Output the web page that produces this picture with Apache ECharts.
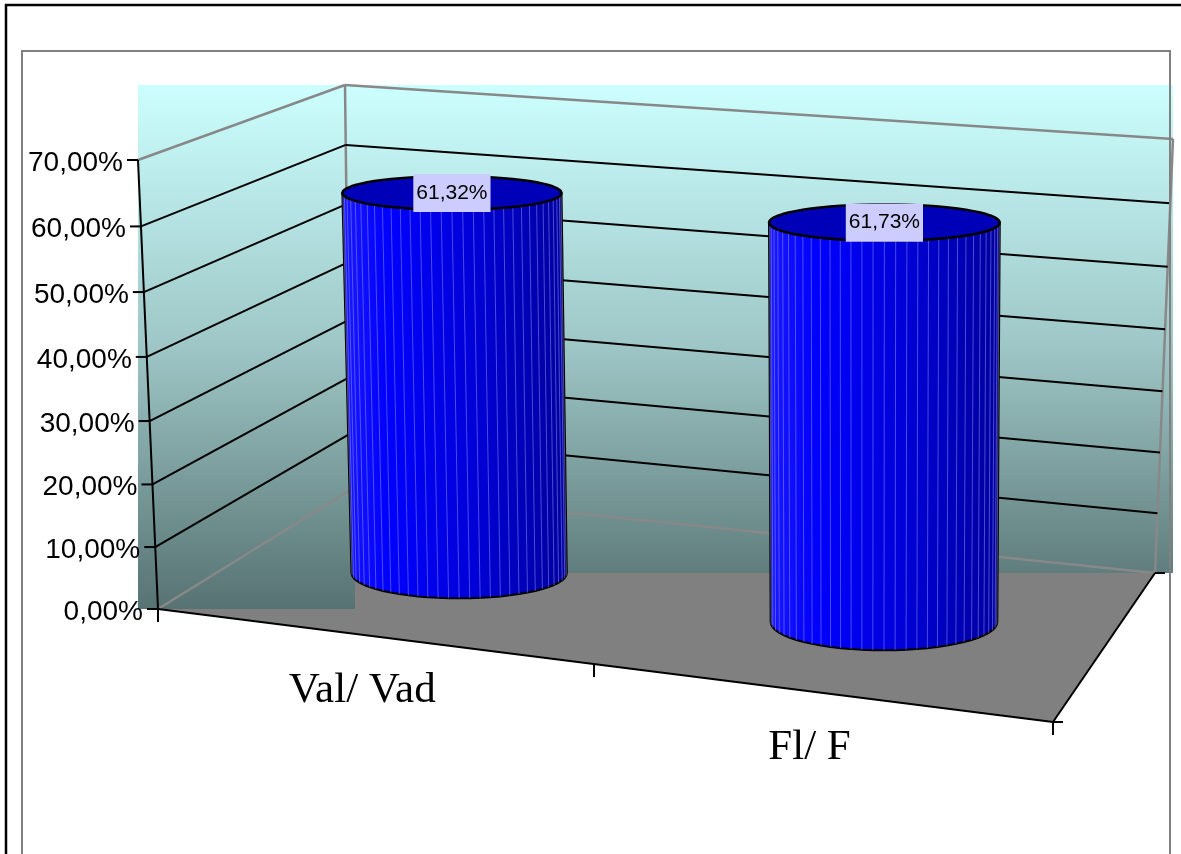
<!DOCTYPE html>
<html>
<head>
<meta charset="utf-8">
<script src="https://cdn.jsdelivr.net/npm/echarts/dist/echarts.min.js"></script>
<style>
  html, body { margin: 0; padding: 0; background: #fff; }
  #chart { width: 1181px; height: 854px; }
</style>
</head>
<body>
<div id="chart"></div>
<script>
// ---- data ----
const categories = ['Val/ Vad', 'Fl/ F'];
const ratios = [0.6132, 0.6173];
const tickValues = [0, 0.1, 0.2, 0.3, 0.4, 0.5, 0.6, 0.7];
const tickLabels = ['0,00%', '10,00%', '20,00%', '30,00%', '40,00%', '50,00%', '60,00%', '70,00%'];
const axisMax = 0.7;

// ---- 3D box layout: screen corners (F/B = front/back, L/R = left/right, B/T = bottom/top) ----
const BOX = {
  FLB: [158, 609], FLT: [138, 160],
  FRB: [1053, 722], FRT: [1045, 226],
  BLB: [350, 490], BLT: [345, 85],
  BRB: [1155, 573], BRT: [1173, 139]
};
const PERSP_U = 0.95;   // foreshortening along the category direction
const PERSP_T = 0.96;   // foreshortening along the value direction

function lerp(a, b, t) { return [a[0] + (b[0] - a[0]) * t, a[1] + (b[1] - a[1]) * t]; }
function persp(x, b) { return b * x / (1 + (b - 1) * x); }
// u: 0..1 across categories, w: 0 (front) .. 1 (back), t: 0..1 of the value range
function project(u, w, t) {
  const su = persp(u, PERSP_U), st = persp(t, PERSP_T);
  const bottom = lerp(lerp(BOX.FLB, BOX.FRB, su), lerp(BOX.BLB, BOX.BRB, su), w);
  const top = lerp(lerp(BOX.FLT, BOX.FRT, su), lerp(BOX.BLT, BOX.BRT, su), w);
  return lerp(bottom, top, st);
}
// Axis coordinates -> box fractions, through the (hidden) cartesian scales
function toBox(api, catIdx, value) {
  const p = api.coord([catIdx, value]);
  const origin = api.coord([0, 0]);
  const band = api.size([1, 0])[0];
  const left = origin[0] - band / 2;
  const yTop = api.coord([0, axisMax])[1];
  return {
    u: (p[0] - left) / (band * categories.length),
    t: (origin[1] - p[1]) / (origin[1] - yTop)
  };
}
function fmtPct(v) { return (v * 100).toFixed(2).replace('.', ',') + '%'; }

const EDGE_GRAY = '#888888';
const WALL_GRADIENT = [
  { offset: 0, color: '#CCFFFF' },
  { offset: 0.5, color: '#9EC6C6' },
  { offset: 1, color: '#577272' }
];

function line(a, b, color, width) {
  return { type: 'line', shape: { x1: a[0], y1: a[1], x2: b[0], y2: b[1] },
           style: { stroke: color, lineWidth: width } };
}
function bbox(pts) {
  const xs = pts.map(p => p[0]), ys = pts.map(p => p[1]);
  return { x: Math.min(...xs), y: Math.min(...ys),
           w: Math.max(...xs) - Math.min(...xs), h: Math.max(...ys) - Math.min(...ys) };
}

// floor + wall panels
function renderFrame(params, api) {
  const flb = project(0, 0, 0), frb = project(1, 0, 0), brb = project(1, 1, 0), blb = project(0, 1, 0);
  const flt = project(0, 0, 1), blt = project(0, 1, 1), brt = project(1, 1, 1);
  const leftWall = bbox([flb, blb, blt, flt]);
  const backWall = bbox([blb, brb, brt, blt]);
  const gTop = Math.min(leftWall.y, backWall.y);
  const gBottom = Math.max(leftWall.y + leftWall.h, backWall.y + backWall.h);
  const grad = { type: 'linear', x: 0, y: gTop, x2: 0, y2: gBottom, global: true, colorStops: WALL_GRADIENT };
  return {
    type: 'group',
    children: [
      { type: 'polygon', shape: { points: [flb, frb, brb, blb] }, style: { fill: '#808080' } },
      { type: 'rect', shape: { x: leftWall.x, y: leftWall.y, width: leftWall.w + 5, height: leftWall.h }, style: { fill: grad } },
      { type: 'rect', shape: { x: backWall.x, y: backWall.y, width: backWall.w, height: backWall.h }, style: { fill: grad } },
      line(blb, blt, EDGE_GRAY, 2.5),
      line(brb, brt, EDGE_GRAY, 2.5)
    ]
  };
}

// one gridline / tick / tick label per axis value
function renderTick(params, api) {
  const v = api.value(1);
  const { t } = toBox(api, 0, v);
  const edge = params.dataIndex === 0 || params.dataIndex === tickValues.length - 1;
  const color = edge ? EDGE_GRAY : '#000';
  const front = project(0, 0, t), backL = project(0, 1, t), backR = project(1, 1, t);
  return {
    type: 'group',
    children: [
      line(front, backL, color, edge ? 2.5 : 2),
      line(backL, backR, color, edge ? 2.5 : 2),
      line([front[0] - 11, front[1]], front, '#000', 2),
      { type: 'text', style: {
          text: tickLabels[params.dataIndex], x: front[0] - 15, y: front[1] + 3,
          align: 'right', verticalAlign: 'middle',
          font: '28px "Liberation Sans", Arial, sans-serif', fill: '#000' } }
    ]
  };
}

// floor front edges, the value axis line and the small axis ticks
function renderAxes(params, api) {
  const flb = project(0, 0, 0), frb = project(1, 0, 0), brb = project(1, 1, 0), flt = project(0, 0, 1);
  const kids = [
    line(flb, frb, '#000', 2),
    line(frb, brb, '#000', 2),
    line(flt, flb, '#000', 2),
    line(frb, [frb[0] + 10, frb[1]], '#000', 2),
    line(brb, [brb[0] + 10, brb[1]], '#000', 2)
  ];
  for (let k = 0; k <= categories.length; k++) {
    const p = project(k / categories.length, 0, 0);
    kids.push(line(p, [p[0], p[1] + 13], '#000', 2));
  }
  return { type: 'group', children: kids };
}

function renderCategoryLabel(params, api) {
  const { u } = toBox(api, api.value(0), 0);
  const p = project(u, 0, 0);
  return { type: 'text', style: {
    text: categories[api.value(0)], x: p[0] - 11, y: p[1] + 55,
    align: 'center', verticalAlign: 'middle',
    font: '43px "Liberation Serif", "Times New Roman", serif', fill: '#000' } };
}

// cylinders
const RADIUS_U = 0.13, RADIUS_W = 0.2, FACETS = 64;
function capEllipse(u, t) {
  const l = project(u - RADIUS_U, 0.5, t), r = project(u + RADIUS_U, 0.5, t), c = project(u, 0.5, t);
  const fr = project(u, 0.5 - 0.05, t), bk = project(u, 0.5 + 0.05, t);
  return { cx: (l[0] + r[0]) / 2, cy: c[1], rx: (r[0] - l[0]) / 2,
           ry: RADIUS_W * Math.abs(fr[1] - bk[1]) / 0.1 };
}
function ep(e, th) { return [e.cx + e.rx * Math.cos(th), e.cy + e.ry * Math.sin(th)]; }

function renderCylinder(params, api) {
  const idx = api.value(0), v = api.value(1);
  const { u, t } = toBox(api, idx, v);
  const bot = capEllipse(u, 0), top = capEllipse(u, t);
  const half = FACETS / 2;
  const body = [];
  for (let k = 0; k <= half; k++) body.push(ep(top, Math.PI * 2 * k / FACETS));
  for (let k = half; k >= 0; k--) body.push(ep(bot, Math.PI * 2 * k / FACETS));
  const cap = [];
  for (let k = 0; k < FACETS; k++) cap.push(ep(top, Math.PI * 2 * k / FACETS));
  const kids = [
    { type: 'polygon', shape: { points: body }, style: {
        fill: { type: 'linear', x: 0, y: 0, x2: 1, y2: 0, colorStops: [
          { offset: 0, color: '#1a1aff' }, { offset: 0.2, color: '#0000ff' },
          { offset: 0.55, color: '#0000dc' }, { offset: 1, color: '#00009c' }] },
        stroke: '#000', lineWidth: 2, lineJoin: 'round' } }
  ];
  for (let k = 1; k < half; k++) {
    const th = Math.PI * 2 * k / FACETS;
    const a = ep(top, th), b = ep(bot, th);
    kids.push({ type: 'line', shape: { x1: a[0], y1: a[1], x2: b[0], y2: b[1] },
                style: { stroke: 'rgba(150,150,255,0.5)', lineWidth: 1 } });
  }
  kids.push({ type: 'polygon', shape: { points: cap },
              style: { fill: '#0000b8', stroke: '#000', lineWidth: 2.5, lineJoin: 'round' } });
  kids.push({ type: 'text', style: {
    text: fmtPct(v), x: top.cx, y: top.cy, align: 'center', verticalAlign: 'middle',
    font: '21px "Liberation Sans", Arial, sans-serif', fill: '#000',
    backgroundColor: '#CCCCFF', padding: [9, 3, 8, 3] } });
  return { type: 'group', children: kids };
}

const chart = echarts.init(document.getElementById('chart'), null, { renderer: 'canvas' });
chart.setOption({
  animation: false,
  backgroundColor: '#fff',
  grid: { left: 0, top: 0, width: 1000, height: 700, show: false },
  xAxis: { type: 'category', data: categories, show: false },
  yAxis: { type: 'value', min: 0, max: axisMax, interval: 0.1, show: false },
  graphic: [
    { type: 'rect', z: 100, shape: { x: 6, y: 5, width: 1300, height: 1000 },
      style: { fill: null, stroke: '#000', lineWidth: 2.5 } },
    { type: 'rect', z: 100, shape: { x: 22, y: 51, width: 1148, height: 1000 },
      style: { fill: null, stroke: '#808080', lineWidth: 2 } }
  ],
  series: [
    { type: 'custom', z: 1, clip: false, silent: true, renderItem: renderFrame, data: [[0, 0]] },
    { type: 'custom', z: 2, clip: false, silent: true, renderItem: renderTick,
      data: tickValues.map(v => [0, v]) },
    { type: 'custom', z: 3, clip: false, silent: true, renderItem: renderAxes, data: [[0, 0]] },
    { type: 'custom', z: 3, clip: false, silent: true, renderItem: renderCategoryLabel,
      data: categories.map((c, i) => [i, 0]) },
    { type: 'custom', z: 4, clip: false, silent: true, renderItem: renderCylinder,
      data: ratios.map((v, i) => [i, v]) }
  ]
});
</script>
</body>
</html>
